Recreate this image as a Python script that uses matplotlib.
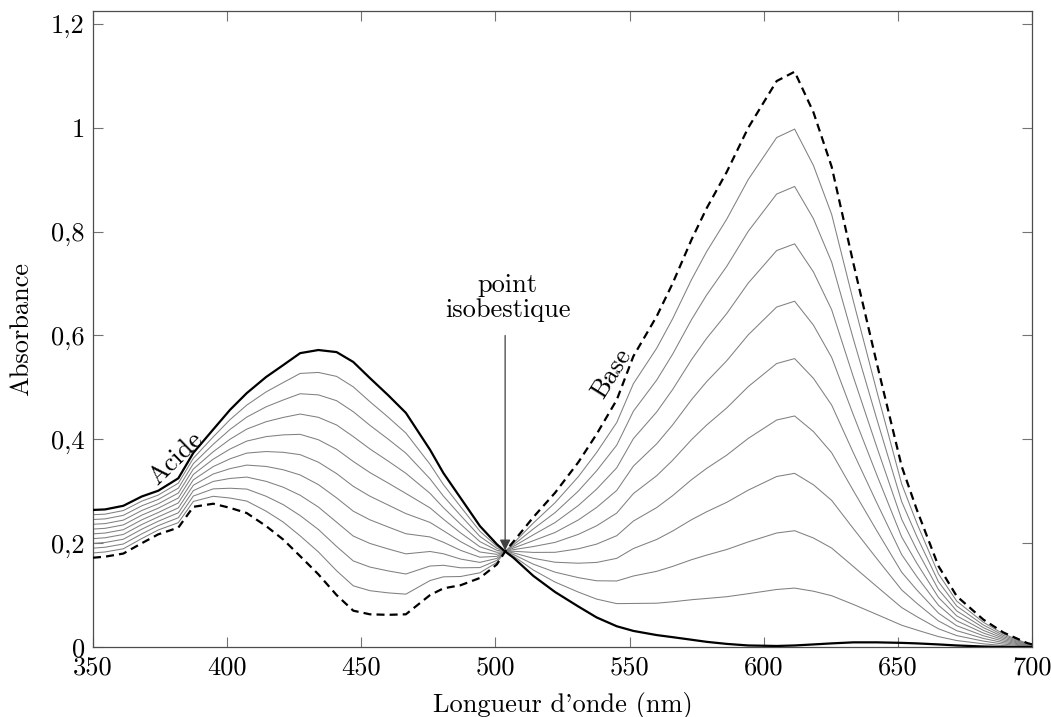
import numpy as np
import matplotlib.pyplot as plt

plt.rcParams['font.family'] = 'cmr10'
plt.rcParams['mathtext.fontset'] = 'cm'
plt.rcParams['axes.unicode_minus'] = False

# longueurs d'onde (nm)
wl = [350, 354.5, 361.3, 368.2, 374.3, 381.8, 387.4, 394.8, 401.1, 407.3,
      414.5, 420.9, 427.2, 434.0, 440.8, 447.0, 453.2, 460.0, 466.6, 475.6,
      480.6, 487.0, 494.2, 500.5, 503.6, 506.7, 514.1, 522.2, 530.9, 537.7,
      545.2, 551.4, 560.1, 566.0, 573.1, 578.7, 586.2, 594.2, 604.8, 611.5,
      618.5, 625.3, 633.4, 642.1, 651.4, 657.0, 665.1, 671.9, 681.8, 689.3,
      698.0, 700]

# forme acide (trait plein)
acid = [0.264, 0.265, 0.272, 0.290, 0.301, 0.325, 0.374, 0.419, 0.457, 0.489,
        0.520, 0.543, 0.566, 0.572, 0.568, 0.549, 0.518, 0.485, 0.451, 0.380,
        0.335, 0.287, 0.233, 0.198, 0.184, 0.172, 0.137, 0.106, 0.078, 0.057,
        0.040, 0.031, 0.023, 0.019, 0.014, 0.010, 0.006, 0.003, 0.002, 0.003,
        0.005, 0.007, 0.009, 0.009, 0.008, 0.007, 0.005, 0.003, 0.001, 0.0,
        0.0, 0.0]

# forme basique (pointilles)
base = [0.172, 0.174, 0.180, 0.200, 0.217, 0.230, 0.270, 0.276, 0.268, 0.258,
        0.233, 0.207, 0.175, 0.140, 0.100, 0.070, 0.063, 0.062, 0.063, 0.100,
        0.113, 0.119, 0.133, 0.159, 0.184, 0.203, 0.250, 0.297, 0.356, 0.410,
        0.476, 0.560, 0.637, 0.700, 0.785, 0.845, 0.915, 1.000, 1.090, 1.108,
        1.030, 0.925, 0.739, 0.547, 0.348, 0.265, 0.156, 0.098, 0.053, 0.028,
        0.008, 0.005]

# part de forme basique dans les spectres intermediaires
fractions = [0.1, 0.2, 0.3, 0.4, 0.5, 0.6, 0.7, 0.8, 0.9]

xticks = [350, 400, 450, 500, 550, 600, 650, 700]
yticks = [0, 0.2, 0.4, 0.6, 0.8, 1.0, 1.2]
ytick_labels = ['0', '0,2', '0,4', '0,6', '0,8', '1', '1,2']

wl = np.array(wl)
acid = np.array(acid)
base = np.array(base)

fig = plt.figure(figsize=(10.51, 7.17), dpi=100)
ax = fig.add_axes([0.0885, 0.0976, 0.8935, 0.8871])

for f in fractions:
    ax.plot(wl, (1 - f) * acid + f * base, color='#808080', lw=0.75, zorder=2)
ax.plot(wl, acid, color='black', lw=1.6, zorder=3)
ax.plot(wl, base, color='black', lw=1.6, ls=(0, (3.6, 2.3)), zorder=3)

ax.set_xlim(350, 700)
ax.set_ylim(0, 1.225)
ax.set_xticks(xticks)
ax.set_xticklabels([str(x) for x in xticks])
ax.set_yticks(yticks)
ax.set_yticklabels(ytick_labels)
ax.tick_params(direction='in', length=7, width=0.8, color='0.45',
               labelsize=19, top=True, right=True, pad=6)
for s in ax.spines.values():
    s.set_linewidth(0.9)
    s.set_color('0.3')

ax.set_xlabel("Longueur d'onde (nm)", fontsize=19, labelpad=9)
ax.set_ylabel('Absorbance', fontsize=19, labelpad=13)

ax.text(381, 0.364, 'Acide', rotation=44, fontsize=19, ha='center', va='center')
ax.text(543.3, 0.526, 'Base', rotation=58, fontsize=19, ha='center', va='center')

ax.text(504.5, 0.684, 'point', fontsize=19, ha='center', va='baseline')
ax.text(504.5, 0.636, 'isobestique', fontsize=19, ha='center', va='baseline')
ax.annotate('', xy=(503.6, 0.186), xytext=(503.6, 0.60),
            arrowprops=dict(arrowstyle='-|>', color='0.25', lw=0.9,
                            mutation_scale=16, shrinkA=0, shrinkB=0))

plt.savefig('out.png', dpi=100)
